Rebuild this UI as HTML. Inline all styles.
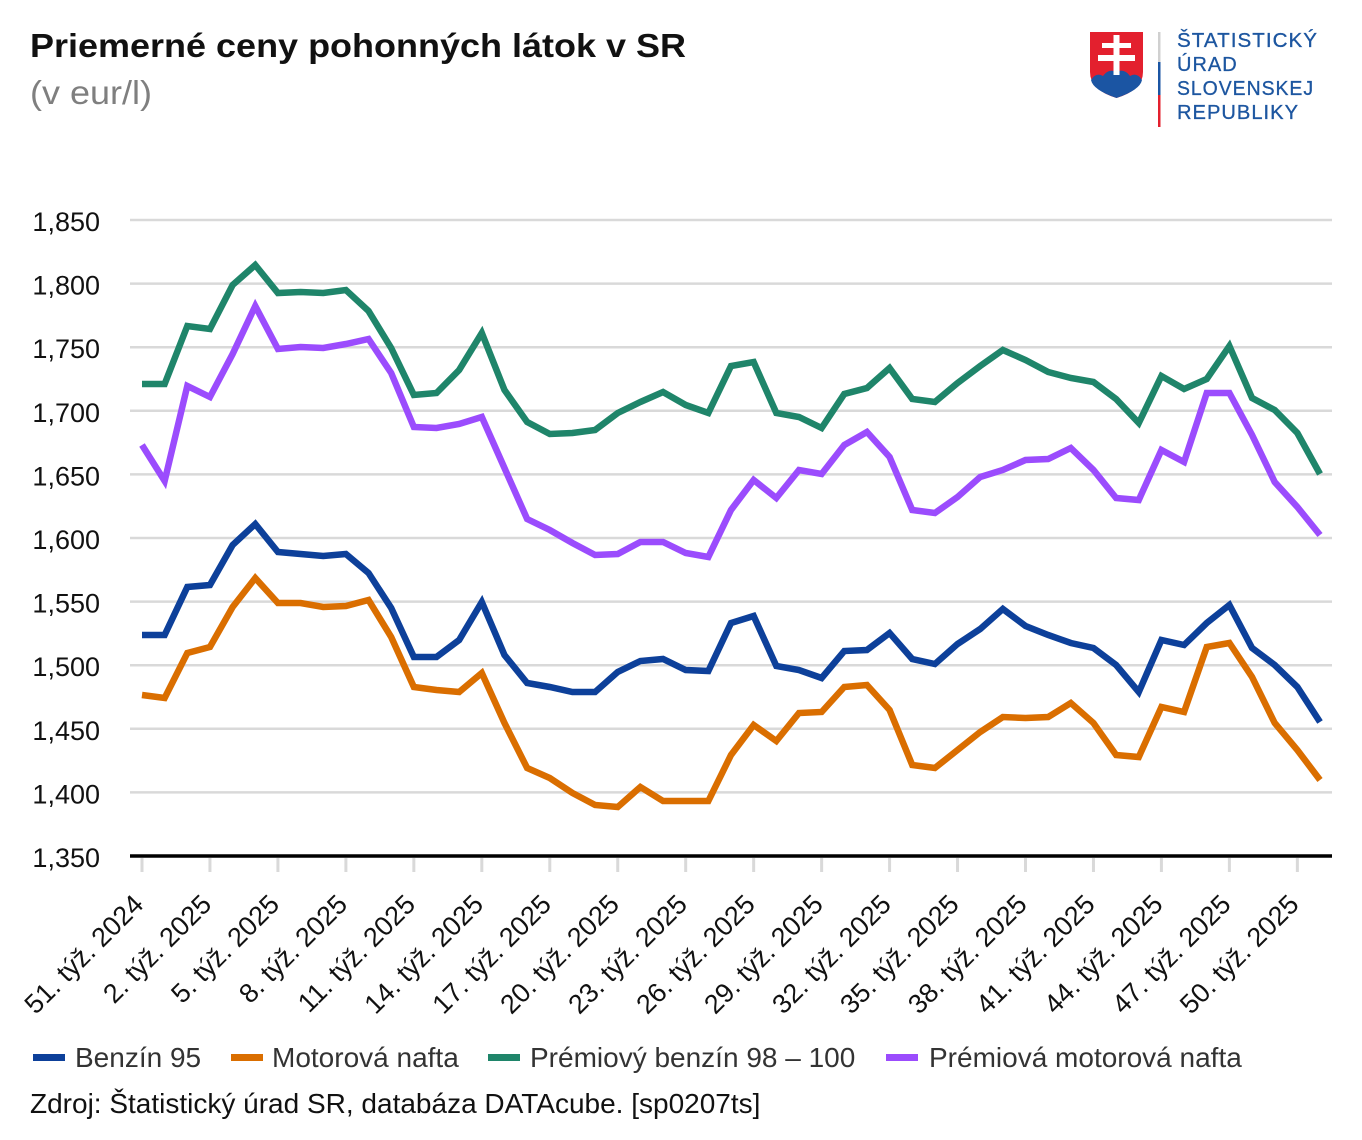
<!DOCTYPE html>
<html>
<head>
<meta charset="utf-8">
<style>
html,body{margin:0;padding:0;background:#fff;}
svg{display:block;}
text{font-family:"Liberation Sans",Arial,sans-serif;}
</style>
</head>
<body>
<svg width="1362" height="1140" viewBox="0 0 1362 1140" xmlns="http://www.w3.org/2000/svg">
<rect width="1362" height="1140" fill="#fff"/>

<!-- Title -->
<text x="30" y="57" font-size="33" font-weight="bold" fill="#111" textLength="656" lengthAdjust="spacingAndGlyphs">Priemerné ceny pohonných látok v SR</text>
<text x="30" y="104" font-size="33" fill="#7f7f7f" textLength="122" lengthAdjust="spacingAndGlyphs">(v eur/l)</text>

<!-- Logo -->
<g>
  <path d="M1090,32 L1143,32 L1143,72 Q1143,90 1116.5,98 Q1090,90 1090,72 Z" fill="#e3202e"/>
  <path d="M1091,80 Q1096,72 1103,76 Q1109,68 1116.5,72 Q1124,68 1130,76 Q1137,72 1142,80 Q1140,90 1116.5,98 Q1093,90 1091,80 Z" fill="#1b55a3"/>
  <rect x="1113.5" y="35" width="6" height="40" fill="#fff"/>
  <rect x="1102" y="43" width="29" height="5" fill="#fff"/>
  <rect x="1098" y="55" width="37" height="6" fill="#fff"/>
  <rect x="1158" y="32" width="2.5" height="30" fill="#d0d0d0"/>
  <rect x="1158" y="62" width="2.5" height="33" fill="#1b55a3"/>
  <rect x="1158" y="95" width="2.5" height="32" fill="#e3202e"/>
  <g font-size="20" fill="#1d56a0" letter-spacing="1" stroke="#1d56a0" stroke-width="0.3">
    <text x="1177" y="47" textLength="141" lengthAdjust="spacingAndGlyphs">ŠTATISTICKÝ</text>
    <text x="1177" y="71">ÚRAD</text>
    <text x="1177" y="95" textLength="137" lengthAdjust="spacingAndGlyphs">SLOVENSKEJ</text>
    <text x="1177" y="119" textLength="122" lengthAdjust="spacingAndGlyphs">REPUBLIKY</text>
  </g>
</g>

<!-- Gridlines -->
<g stroke="#d9d9d9" stroke-width="2.5">
  <line x1="130" y1="220" x2="1332" y2="220"/>
  <line x1="130" y1="283.6" x2="1332" y2="283.6"/>
  <line x1="130" y1="347.2" x2="1332" y2="347.2"/>
  <line x1="130" y1="410.8" x2="1332" y2="410.8"/>
  <line x1="130" y1="474.4" x2="1332" y2="474.4"/>
  <line x1="130" y1="538" x2="1332" y2="538"/>
  <line x1="130" y1="601.6" x2="1332" y2="601.6"/>
  <line x1="130" y1="665.2" x2="1332" y2="665.2"/>
  <line x1="130" y1="728.8" x2="1332" y2="728.8"/>
  <line x1="130" y1="792.4" x2="1332" y2="792.4"/>
</g>

<!-- Y labels -->
<g font-size="27" fill="#111" text-anchor="end">
  <text x="100" y="231">1,850</text>
  <text x="100" y="294.6">1,800</text>
  <text x="100" y="358.2">1,750</text>
  <text x="100" y="421.8">1,700</text>
  <text x="100" y="485.4">1,650</text>
  <text x="100" y="549">1,600</text>
  <text x="100" y="612.6">1,550</text>
  <text x="100" y="676.2">1,500</text>
  <text x="100" y="739.8">1,450</text>
  <text x="100" y="803.4">1,400</text>
  <text x="100" y="867">1,350</text>
</g>

<!-- Ticks -->
<g stroke="#d9d9d9" stroke-width="3">
  <line x1="142" y1="858" x2="142" y2="872"/>
  <line x1="209.96" y1="858" x2="209.96" y2="872"/>
  <line x1="277.92" y1="858" x2="277.92" y2="872"/>
  <line x1="345.89" y1="858" x2="345.89" y2="872"/>
  <line x1="413.85" y1="858" x2="413.85" y2="872"/>
  <line x1="481.81" y1="858" x2="481.81" y2="872"/>
  <line x1="549.77" y1="858" x2="549.77" y2="872"/>
  <line x1="617.73" y1="858" x2="617.73" y2="872"/>
  <line x1="685.7" y1="858" x2="685.7" y2="872"/>
  <line x1="753.66" y1="858" x2="753.66" y2="872"/>
  <line x1="821.62" y1="858" x2="821.62" y2="872"/>
  <line x1="889.58" y1="858" x2="889.58" y2="872"/>
  <line x1="957.54" y1="858" x2="957.54" y2="872"/>
  <line x1="1025.51" y1="858" x2="1025.51" y2="872"/>
  <line x1="1093.47" y1="858" x2="1093.47" y2="872"/>
  <line x1="1161.43" y1="858" x2="1161.43" y2="872"/>
  <line x1="1229.39" y1="858" x2="1229.39" y2="872"/>
  <line x1="1297.35" y1="858" x2="1297.35" y2="872"/>
</g>

<!-- Axis line -->
<line x1="130" y1="856" x2="1332" y2="856" stroke="#000" stroke-width="3.5"/>

<!-- X labels -->
<g font-size="27" fill="#111" text-anchor="end">
  <text transform="translate(145,906) rotate(-45)">51. týž. 2024</text>
  <text transform="translate(212.96,906) rotate(-45)">2. týž. 2025</text>
  <text transform="translate(280.92,906) rotate(-45)">5. týž. 2025</text>
  <text transform="translate(348.89,906) rotate(-45)">8. týž. 2025</text>
  <text transform="translate(416.85,906) rotate(-45)">11. týž. 2025</text>
  <text transform="translate(484.81,906) rotate(-45)">14. týž. 2025</text>
  <text transform="translate(552.77,906) rotate(-45)">17. týž. 2025</text>
  <text transform="translate(620.73,906) rotate(-45)">20. týž. 2025</text>
  <text transform="translate(688.7,906) rotate(-45)">23. týž. 2025</text>
  <text transform="translate(756.66,906) rotate(-45)">26. týž. 2025</text>
  <text transform="translate(824.62,906) rotate(-45)">29. týž. 2025</text>
  <text transform="translate(892.58,906) rotate(-45)">32. týž. 2025</text>
  <text transform="translate(960.54,906) rotate(-45)">35. týž. 2025</text>
  <text transform="translate(1028.51,906) rotate(-45)">38. týž. 2025</text>
  <text transform="translate(1096.47,906) rotate(-45)">41. týž. 2025</text>
  <text transform="translate(1164.43,906) rotate(-45)">44. týž. 2025</text>
  <text transform="translate(1232.39,906) rotate(-45)">47. týž. 2025</text>
  <text transform="translate(1300.35,906) rotate(-45)">50. týž. 2025</text>
</g>

<!-- Series -->
<g fill="none" stroke-width="6.5" stroke-linejoin="miter" stroke-linecap="butt">
  <polyline stroke="#0d409a" points="142,635 164.65,635 187.31,587 209.96,585 232.62,545 255.27,524 277.92,552 300.58,554 323.23,556 345.89,554 368.54,573 391.19,608 413.85,657 436.5,657 459.16,640 481.81,602 504.46,655 527.12,683 549.77,687 572.43,692 595.08,692 617.73,672 640.39,661 663.04,659 685.7,670 708.35,671 731,623 753.66,616 776.31,666 798.97,670 821.62,678 844.27,651 866.93,650 889.58,633 912.24,659 934.89,664 957.54,644 980.2,629 1002.85,609 1025.51,626 1048.16,635 1070.81,643 1093.47,648 1116.12,665 1138.78,692 1161.43,640 1184.08,645 1206.74,623 1229.39,605 1252.05,648 1274.7,665 1297.35,687 1320.01,722"/>
  <polyline stroke="#da6e00" points="142,695 164.65,698 187.31,653 209.96,647 232.62,607 255.27,578 277.92,603 300.58,603 323.23,607 345.89,606 368.54,600 391.19,637 413.85,687 436.5,690 459.16,692 481.81,673 504.46,723 527.12,768 549.77,778 572.43,793 595.08,805 617.73,807 640.39,787 663.04,801 685.7,801 708.35,801 731,755 753.66,725 776.31,741 798.97,713 821.62,712 844.27,687 866.93,685 889.58,710 912.24,765 934.89,768 957.54,750 980.2,732 1002.85,717 1025.51,718 1048.16,717 1070.81,703 1093.47,723 1116.12,755 1138.78,757 1161.43,707 1184.08,712 1206.74,647 1229.39,643 1252.05,677 1274.7,723 1297.35,750 1320.01,780"/>
  <polyline stroke="#1f856a" points="142,384 164.65,384 187.31,326 209.96,329 232.62,285 255.27,265 277.92,293 300.58,292 323.23,293 345.89,290 368.54,311 391.19,348 413.85,395 436.5,393 459.16,370 481.81,333 504.46,390 527.12,422 549.77,434 572.43,433 595.08,430 617.73,413 640.39,402 663.04,392 685.7,405 708.35,413 731,366 753.66,362 776.31,413 798.97,417 821.62,428 844.27,394 866.93,388 889.58,368 912.24,399 934.89,402 957.54,383 980.2,366 1002.85,350 1025.51,360 1048.16,372 1070.81,378 1093.47,382 1116.12,399 1138.78,423 1161.43,376 1184.08,389 1206.74,379 1229.39,346 1252.05,398 1274.7,410 1297.35,433 1320.01,474"/>
  <polyline stroke="#9b4cfd" points="142,445 164.65,481 187.31,386 209.96,397 232.62,354 255.27,306 277.92,349 300.58,347 323.23,348 345.89,344 368.54,339 391.19,373 413.85,427 436.5,428 459.16,424 481.81,417 504.46,468 527.12,519 549.77,530 572.43,543 595.08,555 617.73,554 640.39,542 663.04,542 685.7,553 708.35,557 731,510 753.66,480 776.31,498 798.97,470 821.62,474 844.27,445 866.93,432 889.58,457 912.24,510 934.89,513 957.54,497 980.2,477 1002.85,470 1025.51,460 1048.16,459 1070.81,448 1093.47,470 1116.12,498 1138.78,500 1161.43,450 1184.08,462 1206.74,393 1229.39,393 1252.05,435 1274.7,482 1297.35,507 1320.01,535"/>
</g>

<!-- Legend -->
<g font-size="28" fill="#333">
  <rect x="33" y="1054" width="32" height="7" fill="#0d409a"/>
  <text x="75" y="1067">Benzín 95</text>
  <rect x="231" y="1054" width="32" height="7" fill="#da6e00"/>
  <text x="272" y="1067">Motorová nafta</text>
  <rect x="488" y="1054" width="32" height="7" fill="#1f856a"/>
  <text x="530" y="1067">Prémiový benzín 98 – 100</text>
  <rect x="886" y="1054" width="32" height="7" fill="#9b4cfd"/>
  <text x="929" y="1067">Prémiová motorová nafta</text>
</g>

<!-- Source -->
<text x="30" y="1113" font-size="28" fill="#111">Zdroj: Štatistický úrad SR, databáza DATAcube. [sp0207ts]</text>
</svg>
</body>
</html>
